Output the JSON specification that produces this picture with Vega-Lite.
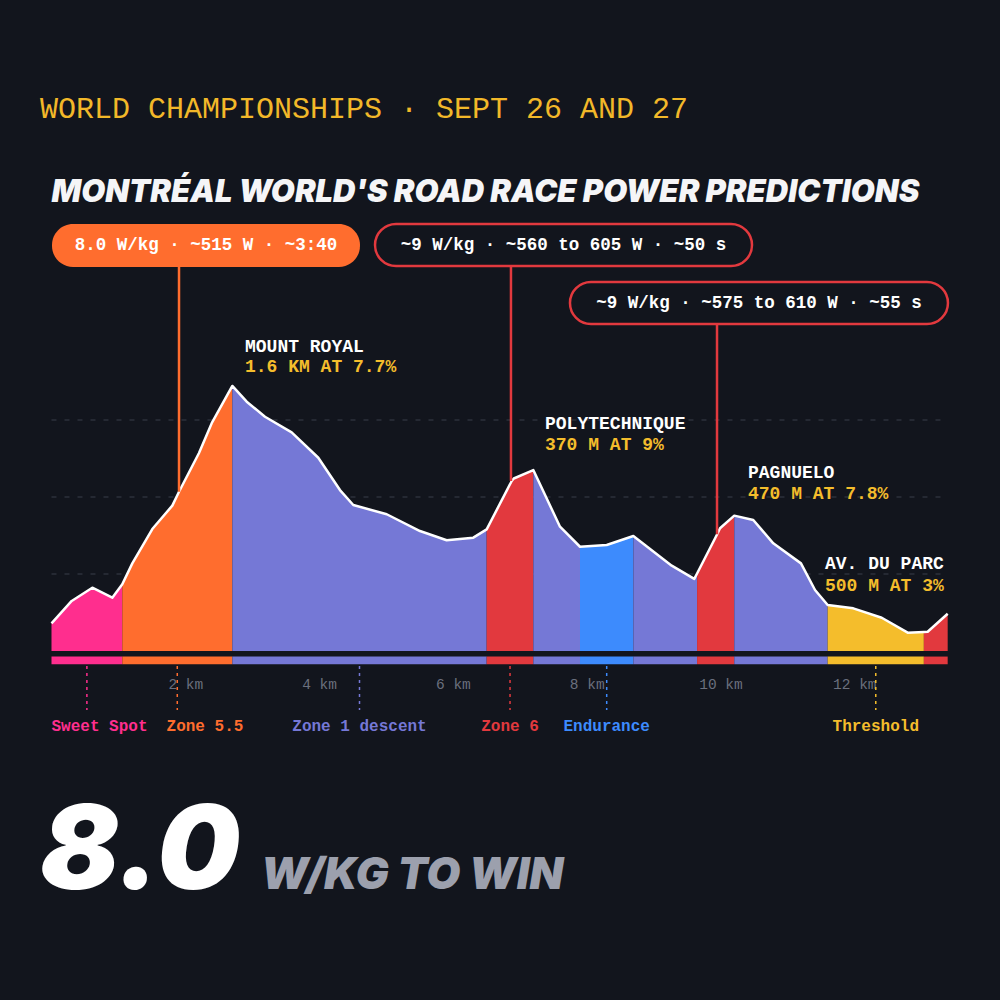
{
  "$schema": "https://vega.github.io/schema/vega-lite/v6.json",
  "width": 1000,
  "height": 1000,
  "autosize": {"type": "none"},
  "padding": 0,
  "background": "#12151d",
  "config": {"view": {"stroke": null}},
  "datasets": {
    "profile": [
      {"km": 0, "elev": 18.0, "seg": 1, "zone": "Sweet Spot"},
      {"km": 0.302, "elev": 32.5, "seg": 1, "zone": "Sweet Spot"},
      {"km": 0.61, "elev": 41.1, "seg": 1, "zone": "Sweet Spot"},
      {"km": 0.909, "elev": 34.6, "seg": 1, "zone": "Sweet Spot"},
      {"km": 1.058, "elev": 43.3, "seg": 1, "zone": "Sweet Spot"},
      {"km": 1.058, "elev": 43.3, "seg": 2, "zone": "Zone 5.5"},
      {"km": 1.208, "elev": 56.9, "seg": 2, "zone": "Zone 5.5"},
      {"km": 1.507, "elev": 79.2, "seg": 2, "zone": "Zone 5.5"},
      {"km": 1.806, "elev": 94.4, "seg": 2, "zone": "Zone 5.5"},
      {"km": 1.906, "elev": 103.4, "seg": 2, "zone": "Zone 5.5"},
      {"km": 2.205, "elev": 128.6, "seg": 2, "zone": "Zone 5.5"},
      {"km": 2.395, "elev": 147.9, "seg": 2, "zone": "Zone 5.5"},
      {"km": 2.703, "elev": 172.1, "seg": 2, "zone": "Zone 5.5"},
      {"km": 2.703, "elev": 172.1, "seg": 3, "zone": "Zone 1 descent"},
      {"km": 2.918, "elev": 161.9, "seg": 3, "zone": "Zone 1 descent"},
      {"km": 3.191, "elev": 152.1, "seg": 3, "zone": "Zone 1 descent"},
      {"km": 3.59, "elev": 142.0, "seg": 3, "zone": "Zone 1 descent"},
      {"km": 3.988, "elev": 125.5, "seg": 3, "zone": "Zone 1 descent"},
      {"km": 4.312, "elev": 104.5, "seg": 3, "zone": "Zone 1 descent"},
      {"km": 4.511, "elev": 94.8, "seg": 3, "zone": "Zone 1 descent"},
      {"km": 5.011, "elev": 88.8, "seg": 3, "zone": "Zone 1 descent"},
      {"km": 5.508, "elev": 77.9, "seg": 3, "zone": "Zone 1 descent"},
      {"km": 5.907, "elev": 71.9, "seg": 3, "zone": "Zone 1 descent"},
      {"km": 6.305, "elev": 73.6, "seg": 3, "zone": "Zone 1 descent"},
      {"km": 6.505, "elev": 79.0, "seg": 3, "zone": "Zone 1 descent"},
      {"km": 6.505, "elev": 79.0, "seg": 4, "zone": "Zone 6"},
      {"km": 6.879, "elev": 110.4, "seg": 4, "zone": "Zone 6"},
      {"km": 6.91, "elev": 112.0, "seg": 4, "zone": "Zone 6"},
      {"km": 7.202, "elev": 117.5, "seg": 4, "zone": "Zone 6"},
      {"km": 7.202, "elev": 117.5, "seg": 5, "zone": "Zone 1 descent"},
      {"km": 7.601, "elev": 80.7, "seg": 5, "zone": "Zone 1 descent"},
      {"km": 7.9, "elev": 67.7, "seg": 5, "zone": "Zone 1 descent"},
      {"km": 7.9, "elev": 67.7, "seg": 6, "zone": "Endurance"},
      {"km": 8.299, "elev": 68.8, "seg": 6, "zone": "Endurance"},
      {"km": 8.697, "elev": 74.7, "seg": 6, "zone": "Endurance"},
      {"km": 8.697, "elev": 74.7, "seg": 7, "zone": "Zone 1 descent"},
      {"km": 9.271, "elev": 55.4, "seg": 7, "zone": "Zone 1 descent"},
      {"km": 9.608, "elev": 46.8, "seg": 7, "zone": "Zone 1 descent"},
      {"km": 9.65, "elev": 50.3, "seg": 7, "zone": "Zone 1 descent"},
      {"km": 9.65, "elev": 50.3, "seg": 8, "zone": "Zone 6"},
      {"km": 9.95, "elev": 75.8, "seg": 8, "zone": "Zone 6"},
      {"km": 9.993, "elev": 79.7, "seg": 8, "zone": "Zone 6"},
      {"km": 10.206, "elev": 87.9, "seg": 8, "zone": "Zone 6"},
      {"km": 10.206, "elev": 87.9, "seg": 9, "zone": "Zone 1 descent"},
      {"km": 10.49, "elev": 85.1, "seg": 9, "zone": "Zone 1 descent"},
      {"km": 10.789, "elev": 69.9, "seg": 9, "zone": "Zone 1 descent"},
      {"km": 11.203, "elev": 56.9, "seg": 9, "zone": "Zone 1 descent"},
      {"km": 11.413, "elev": 39.6, "seg": 9, "zone": "Zone 1 descent"},
      {"km": 11.602, "elev": 29.9, "seg": 9, "zone": "Zone 1 descent"},
      {"km": 11.602, "elev": 29.9, "seg": 10, "zone": "Threshold"},
      {"km": 11.985, "elev": 27.7, "seg": 10, "zone": "Threshold"},
      {"km": 12.41, "elev": 21.6, "seg": 10, "zone": "Threshold"},
      {"km": 12.798, "elev": 11.9, "seg": 10, "zone": "Threshold"},
      {"km": 13.04, "elev": 12.4, "seg": 10, "zone": "Threshold"},
      {"km": 13.04, "elev": 12.4, "seg": 11, "zone": "Zone 6"},
      {"km": 13.097, "elev": 12.5, "seg": 11, "zone": "Zone 6"},
      {"km": 13.396, "elev": 24.2, "seg": 11, "zone": "Zone 6"}
    ],
    "segments": [
      {"seg": 1, "zone": "Sweet Spot", "start": 0, "end": 1.058},
      {"seg": 2, "zone": "Zone 5.5", "start": 1.058, "end": 2.703},
      {"seg": 3, "zone": "Zone 1 descent", "start": 2.703, "end": 6.505},
      {"seg": 4, "zone": "Zone 6", "start": 6.505, "end": 7.202},
      {"seg": 5, "zone": "Zone 1 descent", "start": 7.202, "end": 7.9},
      {"seg": 6, "zone": "Endurance", "start": 7.9, "end": 8.697},
      {"seg": 7, "zone": "Zone 1 descent", "start": 8.697, "end": 9.65},
      {"seg": 8, "zone": "Zone 6", "start": 9.65, "end": 10.206},
      {"seg": 9, "zone": "Zone 1 descent", "start": 10.206, "end": 11.602},
      {"seg": 10, "zone": "Threshold", "start": 11.602, "end": 13.04},
      {"seg": 11, "zone": "Zone 6", "start": 13.04, "end": 13.396}
    ],
    "zones": [
      {"zone": "Sweet Spot", "mid": 0.529},
      {"zone": "Zone 5.5", "mid": 1.88},
      {"zone": "Zone 1 descent", "mid": 4.604},
      {"zone": "Zone 6", "mid": 6.854},
      {"zone": "Endurance", "mid": 8.299},
      {"zone": "Threshold", "mid": 12.321}
    ],
    "grid": [{"elev": 50}, {"elev": 100}, {"elev": 150}],
    "one": [{}]
  },
  "layer": [
    {
      "data": {"name": "grid"},
      "mark": {"type": "rule", "color": "#2c303b", "strokeWidth": 1.5, "strokeDash": [5, 8]},
      "encoding": {
        "x": {"datum": 0, "type": "quantitative", "scale": {"domain": [-0.7698, 14.178], "nice": false, "zero": false}},
        "x2": {"datum": 13.4},
        "y": {"field": "elev", "type": "quantitative", "scale": {"domain": [-226.6, 422.7], "nice": false, "zero": false}, "axis": null}
      }
    },
    {
      "data": {"name": "profile"},
      "mark": {"type": "area", "opacity": 1, "interpolate": "linear"},
      "encoding": {
        "x": {"field": "km", "type": "quantitative", "scale": {"domain": [-0.7698, 14.178], "nice": false, "zero": false},
          "axis": {"values": [2, 4, 6, 8, 10, 12], "labelExpr": "datum.value + ' km'", "domain": false, "ticks": false, "tickSize": 0, "grid": false, "title": null, "labelColor": "#6b707e", "labelFont": "Liberation Mono", "labelFontSize": 14.5, "labelPadding": 0, "labelBaseline": "middle", "offset": -316, "labelFlush": false, "labelOverlap": false}},
        "y": {"field": "elev", "type": "quantitative", "stack": null, "scale": {"domain": [-226.6, 422.7], "nice": false, "zero": false}, "axis": null},
        "y2": {"datum": 0},
        "color": {"field": "zone", "type": "nominal", "legend": null,
          "scale": {"domain": ["Sweet Spot", "Zone 5.5", "Zone 1 descent", "Zone 6", "Endurance", "Threshold"],
                    "range": ["#ff2e8e", "#ff6d2e", "#7578d6", "#e2393e", "#3d8bfd", "#f4bd2c"]}},
        "detail": {"field": "seg", "type": "nominal"}
      }
    },
    {
      "data": {"name": "profile"},
      "mark": {"type": "line", "color": "#ffffff", "strokeWidth": 2.5, "strokeJoin": "round"},
      "encoding": {
        "x": {"field": "km", "type": "quantitative"},
        "y": {"field": "elev", "type": "quantitative", "axis": null}
      }
    },
    {
      "data": {"name": "segments"},
      "mark": {"type": "rect"},
      "encoding": {
        "x": {"field": "start", "type": "quantitative"},
        "x2": {"field": "end"},
        "y": {"datum": -3.6, "type": "quantitative", "axis": null},
        "y2": {"datum": -8.6},
        "color": {"field": "zone", "type": "nominal", "legend": null}
      }
    },
    {
      "data": {"name": "zones"},
      "mark": {"type": "rule", "strokeWidth": 1.5, "strokeDash": [3, 4]},
      "encoding": {
        "x": {"field": "mid", "type": "quantitative"},
        "y": {"datum": -9.7, "type": "quantitative", "axis": null},
        "y2": {"datum": -38.3},
        "color": {"field": "zone", "type": "nominal", "legend": null}
      }
    },
    {
      "data": {"name": "zones"},
      "transform": [{"filter": "datum.zone != 'Sweet Spot' && datum.zone != 'Zone 5.5'"}],
      "mark": {"type": "text", "font": "Liberation Mono", "fontWeight": "bold", "fontSize": 16, "align": "center", "baseline": "middle"},
      "encoding": {
        "x": {"field": "mid", "type": "quantitative"},
        "y": {"datum": -48.7, "type": "quantitative", "axis": null},
        "text": {"field": "zone"},
        "color": {"field": "zone", "type": "nominal", "legend": null}
      }
    },
    {
      "data": {"name": "zones"},
      "transform": [{"filter": "datum.zone == 'Sweet Spot'"}],
      "mark": {"type": "text", "font": "Liberation Mono", "fontWeight": "bold", "fontSize": 16, "align": "center", "baseline": "middle", "dx": 12.6},
      "encoding": {
        "x": {"field": "mid", "type": "quantitative"},
        "y": {"datum": -48.7, "type": "quantitative", "axis": null},
        "text": {"field": "zone"},
        "color": {"field": "zone", "type": "nominal", "legend": null}
      }
    },
    {
      "data": {"name": "zones"},
      "transform": [{"filter": "datum.zone == 'Zone 5.5'"}],
      "mark": {"type": "text", "font": "Liberation Mono", "fontWeight": "bold", "fontSize": 16, "align": "center", "baseline": "middle", "dx": 27.7},
      "encoding": {
        "x": {"field": "mid", "type": "quantitative"},
        "y": {"datum": -48.7, "type": "quantitative", "axis": null},
        "text": {"field": "zone"},
        "color": {"field": "zone", "type": "nominal", "legend": null}
      }
    },
    {
      "data": {"name": "one"},
      "mark": {"type": "rule", "color": "#ff6d2e", "strokeWidth": 2.5},
      "encoding": {
        "x": {"datum": 1.906, "type": "quantitative"},
        "y": {"datum": 260, "type": "quantitative", "axis": null},
        "y2": {"datum": 103.4}
      }
    },
    {
      "data": {"name": "one"},
      "mark": {"type": "rule", "color": "#e2393e", "strokeWidth": 2.5},
      "encoding": {
        "x": {"datum": 6.868, "type": "quantitative"},
        "y": {"datum": 260, "type": "quantitative", "axis": null},
        "y2": {"datum": 110.4}
      }
    },
    {
      "data": {"name": "one"},
      "mark": {"type": "rule", "color": "#e2393e", "strokeWidth": 2.5},
      "encoding": {
        "x": {"datum": 9.948, "type": "quantitative"},
        "y": {"datum": 225, "type": "quantitative", "axis": null},
        "y2": {"datum": 75.8}
      }
    },
    {
      "data": {"name": "one"},
      "mark": {"type": "rect", "fill": "#ff6d2e", "cornerRadius": 21},
      "encoding": {
        "x": {"datum": 0.0075, "type": "quantitative"},
        "x2": {"datum": 4.611},
        "y": {"datum": 277.3, "type": "quantitative", "axis": null},
        "y2": {"datum": 249.4}
      }
    },
    {
      "data": {"name": "one"},
      "mark": {"type": "rect", "fill": "#12151d", "stroke": "#e2393e", "strokeWidth": 2.5, "cornerRadius": 21},
      "encoding": {
        "x": {"datum": 4.836, "type": "quantitative"},
        "x2": {"datum": 10.471},
        "y": {"datum": 277.3, "type": "quantitative", "axis": null},
        "y2": {"datum": 250.0}
      }
    },
    {
      "data": {"name": "one"},
      "mark": {"type": "rect", "fill": "#12151d", "stroke": "#e2393e", "strokeWidth": 2.5, "cornerRadius": 21},
      "encoding": {
        "x": {"datum": 7.75, "type": "quantitative"},
        "x2": {"datum": 13.4},
        "y": {"datum": 239.6, "type": "quantitative", "axis": null},
        "y2": {"datum": 212.3}
      }
    },
    {
      "data": {"name": "one"},
      "mark": {"type": "text", "text": "8.0 W/kg · ~515 W · ~3:40", "font": "Liberation Mono", "fontWeight": "bold", "fontSize": 17.5, "color": "#ffffff", "align": "center", "baseline": "middle"},
      "encoding": {
        "x": {"datum": 2.309, "type": "quantitative"},
        "y": {"datum": 263.3, "type": "quantitative", "axis": null}
      }
    },
    {
      "data": {"name": "one"},
      "mark": {"type": "text", "text": "~9 W/kg · ~560 to 605 W · ~50 s", "font": "Liberation Mono", "fontWeight": "bold", "fontSize": 17.5, "color": "#ffffff", "align": "center", "baseline": "middle"},
      "encoding": {
        "x": {"datum": 7.653, "type": "quantitative"},
        "y": {"datum": 263.6, "type": "quantitative", "axis": null}
      }
    },
    {
      "data": {"name": "one"},
      "mark": {"type": "text", "text": "~9 W/kg · ~575 to 610 W · ~55 s", "font": "Liberation Mono", "fontWeight": "bold", "fontSize": 17.5, "color": "#ffffff", "align": "center", "baseline": "middle"},
      "encoding": {
        "x": {"datum": 10.576, "type": "quantitative"},
        "y": {"datum": 226.0, "type": "quantitative", "axis": null}
      }
    },
    {
      "data": {"name": "one"},
      "mark": {"type": "text", "text": "MOUNT ROYAL", "font": "Liberation Mono", "fontWeight": "bold", "fontSize": 18, "color": "#ffffff", "align": "left", "baseline": "middle"},
      "encoding": {"x": {"datum": 2.892, "type": "quantitative"}, "y": {"datum": 197.1, "type": "quantitative", "axis": null}}
    },
    {
      "data": {"name": "one"},
      "mark": {"type": "text", "text": "1.6 KM AT 7.7%", "font": "Liberation Mono", "fontWeight": "bold", "fontSize": 18, "color": "#f4bd2c", "align": "left", "baseline": "middle"},
      "encoding": {"x": {"datum": 2.892, "type": "quantitative"}, "y": {"datum": 184.1, "type": "quantitative", "axis": null}}
    },
    {
      "data": {"name": "one"},
      "mark": {"type": "text", "text": "POLYTECHNIQUE", "font": "Liberation Mono", "fontWeight": "bold", "fontSize": 18, "color": "#ffffff", "align": "left", "baseline": "middle"},
      "encoding": {"x": {"datum": 7.377, "type": "quantitative"}, "y": {"datum": 147.4, "type": "quantitative", "axis": null}}
    },
    {
      "data": {"name": "one"},
      "mark": {"type": "text", "text": "370 M AT 9%", "font": "Liberation Mono", "fontWeight": "bold", "fontSize": 18, "color": "#f4bd2c", "align": "left", "baseline": "middle"},
      "encoding": {"x": {"datum": 7.377, "type": "quantitative"}, "y": {"datum": 133.8, "type": "quantitative", "axis": null}}
    },
    {
      "data": {"name": "one"},
      "mark": {"type": "text", "text": "PAGNUELO", "font": "Liberation Mono", "fontWeight": "bold", "fontSize": 18, "color": "#ffffff", "align": "left", "baseline": "middle"},
      "encoding": {"x": {"datum": 10.411, "type": "quantitative"}, "y": {"datum": 115.6, "type": "quantitative", "axis": null}}
    },
    {
      "data": {"name": "one"},
      "mark": {"type": "text", "text": "470 M AT 7.8%", "font": "Liberation Mono", "fontWeight": "bold", "fontSize": 18, "color": "#f4bd2c", "align": "left", "baseline": "middle"},
      "encoding": {"x": {"datum": 10.411, "type": "quantitative"}, "y": {"datum": 101.9, "type": "quantitative", "axis": null}}
    },
    {
      "data": {"name": "one"},
      "mark": {"type": "text", "text": "AV. DU PARC", "font": "Liberation Mono", "fontWeight": "bold", "fontSize": 18, "color": "#ffffff", "align": "left", "baseline": "middle"},
      "encoding": {"x": {"datum": 11.562, "type": "quantitative"}, "y": {"datum": 56.2, "type": "quantitative", "axis": null}}
    },
    {
      "data": {"name": "one"},
      "mark": {"type": "text", "text": "500 M AT 3%", "font": "Liberation Mono", "fontWeight": "bold", "fontSize": 18, "color": "#f4bd2c", "align": "left", "baseline": "middle"},
      "encoding": {"x": {"datum": 11.562, "type": "quantitative"}, "y": {"datum": 42.5, "type": "quantitative", "axis": null}}
    },
    {
      "data": {"name": "one"},
      "mark": {"type": "text", "text": "WORLD CHAMPIONSHIPS · SEPT 26 AND 27", "font": "Liberation Mono", "fontSize": 30, "color": "#f2b829", "align": "left", "baseline": "alphabetic"},
      "encoding": {"x": {"datum": -0.172, "type": "quantitative"}, "y": {"datum": 345.9, "type": "quantitative", "axis": null}}
    },
    {
      "data": {"name": "one"},
      "mark": {"type": "text", "text": "MONTRÉAL WORLD'S ROAD RACE POWER PREDICTIONS", "font": "Inter", "fontWeight": 900, "fontStyle": "italic", "fontSize": 31, "color": "#f5f5f7", "align": "left", "baseline": "alphabetic"},
      "encoding": {"x": {"datum": 0.0, "type": "quantitative"}, "y": {"datum": 291.7, "type": "quantitative", "axis": null}}
    },
    {
      "data": {"name": "one"},
      "mark": {"type": "text", "text": "8.0", "font": "Inter", "fontWeight": 900, "fontStyle": "italic", "fontSize": 117, "color": "#ffffff", "align": "left", "baseline": "alphabetic"},
      "encoding": {"x": {"datum": -0.172, "type": "quantitative"}, "y": {"datum": -154.5, "type": "quantitative", "axis": null}}
    },
    {
      "data": {"name": "one"},
      "mark": {"type": "text", "text": "W/KG TO WIN", "font": "Inter", "fontWeight": 900, "fontStyle": "italic", "fontSize": 44, "color": "#9ca0ad", "align": "left", "baseline": "alphabetic"},
      "encoding": {"x": {"datum": 3.13, "type": "quantitative"}, "y": {"datum": -154.5, "type": "quantitative", "axis": null}}
    }
  ]
}
